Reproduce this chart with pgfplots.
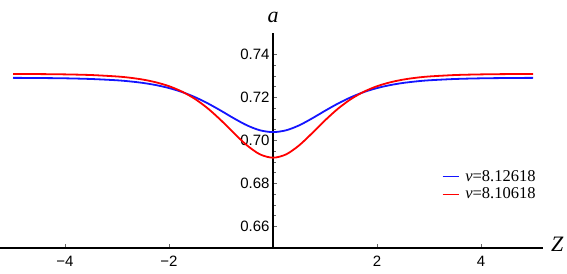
\documentclass[border=0pt]{standalone}
\usepackage{fontspec}
\setmainfont{Liberation Serif}
\newfontfamily\ticksf{Liberation Sans}
\usepackage{pgfplots}
\pgfplotsset{compat=1.18}
\definecolor{cblue}{RGB}{20,20,255}
\definecolor{cred}{RGB}{255,0,0}
\begin{document}
\begin{tikzpicture}
\begin{axis}[
  scale only axis, width=543bp, height=215bp,
  xmin=-5.25, xmax=5.19, ymin=0.65, ymax=0.75,
  axis lines=middle,
  axis line style={line width=1.6bp, -},
  xtick={-4,-2,2,4}, xticklabels={−4,−2,2,4},
  ytick={0.66,0.68,0.70,0.72,0.74}, yticklabels={0.66,0.68,0.70,0.72,0.74},
  minor x tick num=3, minor y tick num=3,
  tick align=inside,
  major tick length=4bp, minor tick length=2.5bp,
  every tick/.style={black!60, line width=0.8bp},
  tick label style={font=\ticksf\fontsize{15bp}{17bp}\selectfont},
  xticklabel style={yshift=-5bp},
  xlabel={\textit{Z}}, ylabel={\textit{a}},
  xlabel style={at={(axis description cs:1,0)}, anchor=west, inner sep=0pt, xshift=8bp, yshift=4bp, font=\fontsize{22bp}{24bp}\selectfont},
  ylabel style={at={(axis description cs:0.5029,1)}, anchor=base, inner sep=0pt, yshift=10bp, font=\fontsize{22bp}{24bp}\selectfont},
  legend style={at={(axis description cs:0.812,0.375)}, anchor=north west, draw=white, fill=none,
    font=\fontsize{16.5bp}{19bp}\selectfont, inner sep=1bp, row sep=1bp,
    /tikz/every odd column/.append style={column sep=4bp}},
  legend cell align=left,
  clip=false,
]
\addlegendimage{draw=cblue, line width=1.2bp, legend image code/.code={\draw[draw=cblue, line width=1.2bp] (0bp,0bp) -- (16bp,0bp);}}
\addlegendentry{\textit{ν}=8.12618}
\addlegendimage{draw=cred, line width=1.2bp, legend image code/.code={\draw[draw=cred, line width=1.2bp] (0bp,0bp) -- (16bp,0bp);}}
\addlegendentry{\textit{ν}=8.10618}
\addplot[cblue, line width=1.8bp, smooth, forget plot] coordinates {
(-5,0.72914) (-4.5,0.72906) (-4,0.72892) (-3.5,0.72861) (-3,0.72800) (-2.75,0.72748)
(-2.5,0.72677) (-2.25,0.72576) (-2,0.72439) (-1.75,0.72256) (-1.5,0.72015) (-1.25,0.71721)
(-1,0.71383) (-0.75,0.71027) (-0.5,0.70703) (-0.25,0.70474) (0,0.70390)
(0.25,0.70474) (0.5,0.70703) (0.75,0.71027) (1,0.71383) (1.25,0.71721) (1.5,0.72015)
(1.75,0.72256) (2,0.72439) (2.25,0.72576) (2.5,0.72677) (2.75,0.72748) (3,0.72800)
(3.5,0.72861) (4,0.72892) (4.5,0.72906) (5,0.72914)};
\addplot[cred, line width=1.8bp, smooth, forget plot] coordinates {
(-5,0.73095) (-4.5,0.73089) (-4,0.73075) (-3.5,0.73045) (-3,0.72978) (-2.75,0.72919)
(-2.5,0.72832) (-2.25,0.72705) (-2,0.72526) (-1.75,0.72273) (-1.5,0.71931) (-1.25,0.71483)
(-1,0.70938) (-0.75,0.70338) (-0.5,0.69771) (-0.25,0.69354) (0,0.69200)
(0.25,0.69354) (0.5,0.69771) (0.75,0.70338) (1,0.70938) (1.25,0.71483) (1.5,0.71931)
(1.75,0.72273) (2,0.72526) (2.25,0.72705) (2.5,0.72832) (2.75,0.72919) (3,0.72978)
(3.5,0.73045) (4,0.73075) (4.5,0.73089) (5,0.73095)};
\end{axis}
\pgfresetboundingbox
\path[use as bounding box] (0bp,-26bp) rectangle (567bp,248bp);
\end{tikzpicture}
\end{document}
